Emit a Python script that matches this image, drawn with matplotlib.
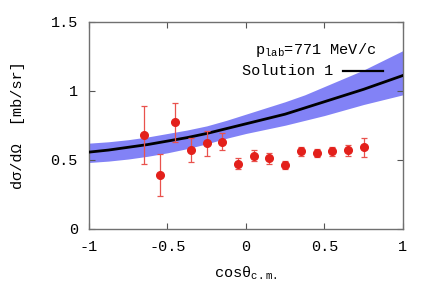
import matplotlib
matplotlib.use("Agg")
import matplotlib.pyplot as plt

# measured points
cos_data = [-0.65, -0.55, -0.45, -0.35, -0.25, -0.15, -0.05, 0.05, 0.15,
            0.25, 0.35, 0.45, 0.55, 0.65, 0.75]
xs_data = [0.68, 0.39, 0.77, 0.57, 0.62, 0.63, 0.47, 0.53, 0.51,
           0.46, 0.56, 0.55, 0.56, 0.57, 0.59]
err_lo = [0.21, 0.15, 0.14, 0.09, 0.09, 0.06, 0.04, 0.04, 0.04,
          0.03, 0.03, 0.03, 0.03, 0.04, 0.07]
err_hi = [0.21, 0.15, 0.14, 0.09, 0.09, 0.06, 0.04, 0.04, 0.04,
          0.03, 0.03, 0.03, 0.03, 0.04, 0.07]

# Solution 1 curve and its uncertainty band
cos_model = [-1.0, -0.875, -0.75, -0.625, -0.5, -0.375, -0.25, -0.125, 0.0,
             0.125, 0.25, 0.375, 0.5, 0.625, 0.75, 0.875, 1.0]
sol1 = [0.555, 0.57, 0.59, 0.61, 0.635, 0.66, 0.69, 0.725, 0.76,
        0.795, 0.83, 0.875, 0.92, 0.965, 1.01, 1.06, 1.11]
band_hi = [0.62, 0.63, 0.645, 0.665, 0.69, 0.715, 0.745, 0.785, 0.83,
           0.875, 0.92, 0.97, 1.03, 1.09, 1.15, 1.22, 1.29]
band_lo = [0.48, 0.49, 0.505, 0.525, 0.55, 0.58, 0.615, 0.655, 0.69,
           0.72, 0.75, 0.785, 0.82, 0.86, 0.90, 0.935, 0.97]

xticks = [-1, -0.5, 0, 0.5, 1]
xtick_labels = ["-1", "-0.5", "0", "0.5", "1"]
yticks = [0, 0.5, 1, 1.5]
ytick_labels = ["0", "0.5", "1", "1.5"]

plt.rcParams["font.family"] = ["Liberation Mono", "DejaVu Sans"]
plt.rcParams["mathtext.fontset"] = "dejavuserif"
plt.rcParams["axes.unicode_minus"] = False

fig = plt.figure(figsize=(4.36, 3.05), dpi=100)
ax = fig.add_axes([0.204, 0.250, 0.720, 0.679])

ax.fill_between(cos_model, band_lo, band_hi, color="#8282f6", lw=0)
ax.plot(cos_model, sol1, color="black", lw=2.0, zorder=3)
ax.errorbar(cos_data, xs_data, yerr=[err_lo, err_hi], fmt="o",
            color="#e3201b", ecolor="#e9524d", elinewidth=0.9,
            capsize=2.2, capthick=0.9, markersize=5.5, zorder=4)

ax.set_xlim(-1, 1)
ax.set_ylim(0, 1.5)
ax.set_xticks(xticks)
ax.set_xticklabels(xtick_labels)
ax.set_yticks(yticks)
ax.set_yticklabels(ytick_labels)
ax.tick_params(direction="in", length=4, width=0.8, color="#555555",
               top=True, right=True, labelsize=11, pad=8)
for s in ax.spines.values():
    s.set_color("#707070")
    s.set_linewidth(1.0)

ax.set_xlabel(r"cos$\mathregular{\theta}_{\mathregular{c.m.}}$", fontsize=11,
              labelpad=8)
ax.set_ylabel("d\u03c3/d\u03a9  [mb/sr]", fontsize=11, labelpad=18)

ax.text(0.723, 0.865, r"p$_{\mathregular{lab}}$=771 MeV/c", transform=ax.transAxes,
        fontsize=11, ha="center", va="center")
ax.text(0.777, 0.76, "Solution 1", transform=ax.transAxes,
        fontsize=11, ha="right", va="center")
ax.plot([0.809, 0.936], [0.76, 0.76], color="black", lw=1.6,
        transform=ax.transAxes)

fig.savefig("out.png", dpi=100)
